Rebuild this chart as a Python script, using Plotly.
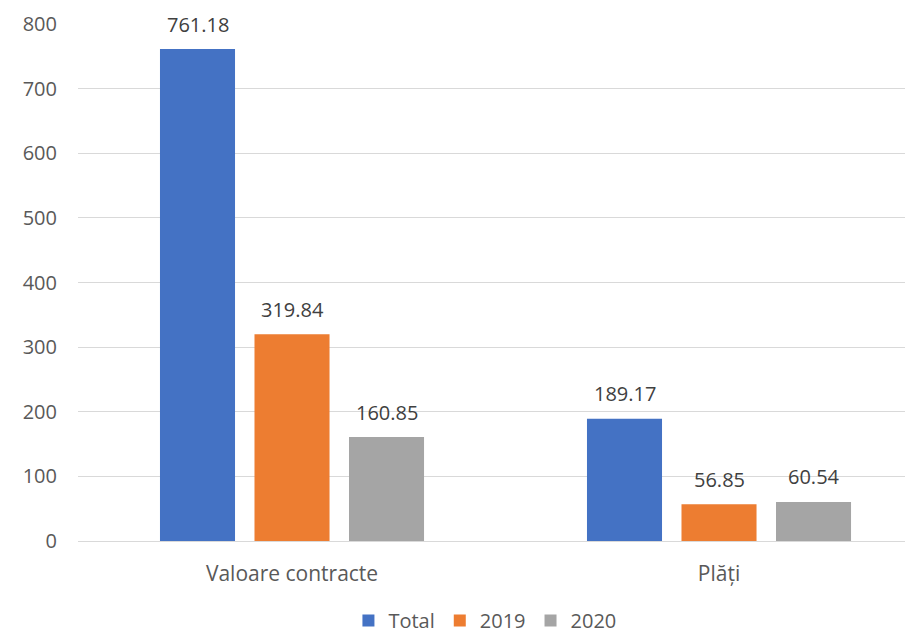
import plotly.graph_objects as go

categories = ["Valoare contracte", "Plăți"]
series_names = ["Total", "2019", "2020"]
total_values = [761.18, 189.17]
y2019_values = [319.84, 56.85]
y2020_values = [160.85, 60.54]
y_ticks = [0, 100, 200, 300, 400, 500, 600, 700, 800]

colors = ["#4472C4", "#ED7D31", "#A5A5A5"]
all_values = [total_values, y2019_values, y2020_values]

FONT = "Open Sans"
TXT = "#595959"

fig = go.Figure()
for name, vals, col in zip(series_names, all_values, colors):
    fig.add_trace(go.Bar(
        name=name, x=categories, y=vals, marker_color=col,
        marker_line_width=0,
    ))

# data labels as annotations anchored on data coordinates
slot_px = 94.5
for i, vals in enumerate(all_values):
    for cat, v in zip(categories, vals):
        fig.add_annotation(
            x=cat, y=v, xref="x", yref="y",
            text=f"{v:.2f}", showarrow=False,
            xshift=(i - 1) * slot_px, yshift=25, yanchor="middle",
            font=dict(family=FONT, size=20, color="#404040"),
        )

fig.update_layout(
    width=905, height=625,
    margin=dict(l=70, r=0, t=16, b=92),
    plot_bgcolor="white", paper_bgcolor="white",
    barmode="group", bargap=0.336, bargroupgap=0.206,
    font=dict(family=FONT, size=20, color=TXT),
    showlegend=True,
    legend=dict(
        orientation="h", xref="container", x=0.527, xanchor="center",
        yref="container", y=0.02, yanchor="middle",
        font=dict(family=FONT, size=20, color=TXT),
        traceorder="normal",
    ),
)
fig.update_xaxes(
    range=[-0.5012, 1.4543], showgrid=False, showline=False, ticks="",
    ticklabelstandoff=18, tickfont=dict(family=FONT, size=21, color=TXT),
)
fig.update_yaxes(
    range=[0, 800], tickvals=y_ticks, showgrid=True, gridcolor="#D9D9D9",
    gridwidth=1.3, zeroline=True, zerolinecolor="#D9D9D9", zerolinewidth=1.3,
    showline=False, ticks="", ticklabelstandoff=20,
    tickfont=dict(family=FONT, size=20, color=TXT),
)
fig.write_html("out.html")
